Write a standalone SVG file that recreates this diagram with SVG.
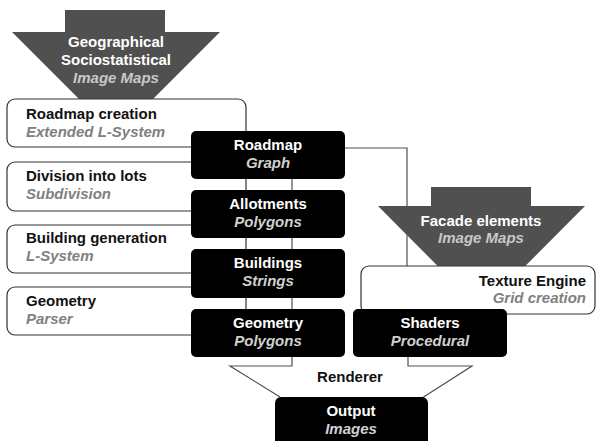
<svg xmlns="http://www.w3.org/2000/svg" width="597" height="441" viewBox="0 0 597 441">
<style>
text{font-family:"Liberation Sans",Arial,sans-serif;font-weight:bold;font-size:15px}
.it{font-style:italic}
.wb{fill:#fff;stroke:#333;stroke-width:1.2}
.bb{fill:#000}
.arr{fill:#505050}
.ln{fill:none;stroke:#505050;stroke-width:1.2}
.t1{fill:#111}
.g1{fill:#808080}
.wt{fill:#fff}
.g2{fill:#d0d0d0}
.g3{fill:#c8c8c8}
.c{text-anchor:middle}
.r{text-anchor:end}
</style>
<rect width="597" height="441" fill="#fff"/>
<g id="geo-maps">
<polygon class="arr" points="65,10 165,10 165,32 220,32 116,136 12,32 65,32"/>
<text class="c wt" x="116" y="47">Geographical</text>
<text class="c wt" x="116" y="65">Sociostatistical</text>
<text class="c it g3" x="116" y="83">Image Maps</text>
</g>
<g id="facade">
<polygon class="arr" points="431,187 531,187 531,206 585,206 481.5,310 378,206 431,206"/>
<text class="c wt" x="481" y="226">Facade elements</text>
<text class="c it g3" x="481" y="243">Image Maps</text>
</g>
<g id="connectors">
<polyline class="ln" points="345,148 407,148 407,266"/>
<polyline class="ln" points="292,179 292,366 230,366 280,397"/>
<polyline class="ln" points="408,357 408,366 472,366 422,398"/>
</g>
<g id="roadmap-creation">
<rect class="wb" x="7" y="99" width="239" height="48" rx="8"/>
<text class="t1" x="26" y="119">Roadmap creation</text>
<text class="it g1" x="26" y="137">Extended L-System</text>
</g>
<g id="division">
<rect class="wb" x="7" y="162" width="239" height="49" rx="8"/>
<text class="t1" x="26" y="181">Division into lots</text>
<text class="it g1" x="26" y="199">Subdivision</text>
</g>
<g id="building-gen">
<rect class="wb" x="7" y="225" width="239" height="48" rx="8"/>
<text class="t1" x="26" y="243">Building generation</text>
<text class="it g1" x="26" y="261">L-System</text>
</g>
<g id="geometry-parser">
<rect class="wb" x="7" y="287" width="239" height="48" rx="8"/>
<text class="t1" x="26" y="306">Geometry</text>
<text class="it g1" x="26" y="324">Parser</text>
</g>
<g id="texture-engine">
<rect class="wb" x="361" y="266" width="234" height="48" rx="8"/>
<text class="t1 r" x="586" y="286">Texture Engine</text>
<text class="it g1 r" x="586" y="303">Grid creation</text>
</g>
<g id="roadmap">
<rect class="bb" x="191" y="131" width="154" height="48" rx="5"/>
<text class="c wt" x="268" y="150">Roadmap</text>
<text class="c it g2" x="268" y="168">Graph</text>
</g>
<g id="allotments">
<rect class="bb" x="191" y="190" width="154" height="48" rx="5"/>
<text class="c wt" x="268" y="209">Allotments</text>
<text class="c it g2" x="268" y="227">Polygons</text>
</g>
<g id="buildings">
<rect class="bb" x="191" y="249" width="154" height="49" rx="5"/>
<text class="c wt" x="268" y="268">Buildings</text>
<text class="c it g2" x="268" y="286">Strings</text>
</g>
<g id="geometry">
<rect class="bb" x="191" y="309" width="154" height="48" rx="5"/>
<text class="c wt" x="268" y="328">Geometry</text>
<text class="c it g2" x="268" y="346">Polygons</text>
</g>
<g id="shaders">
<rect class="bb" x="353" y="309" width="154" height="48" rx="5"/>
<text class="c wt" x="430" y="328">Shaders</text>
<text class="c it g2" x="430" y="346">Procedural</text>
</g>
<g id="renderer">
<text class="c t1" x="350" y="382">Renderer</text>
</g>
<g id="output">
<rect class="bb" x="275" y="397" width="153" height="50" rx="6"/>
<text class="c wt" x="351" y="416">Output</text>
<text class="c it g2" x="351" y="434">Images</text>
</g>
</svg>
